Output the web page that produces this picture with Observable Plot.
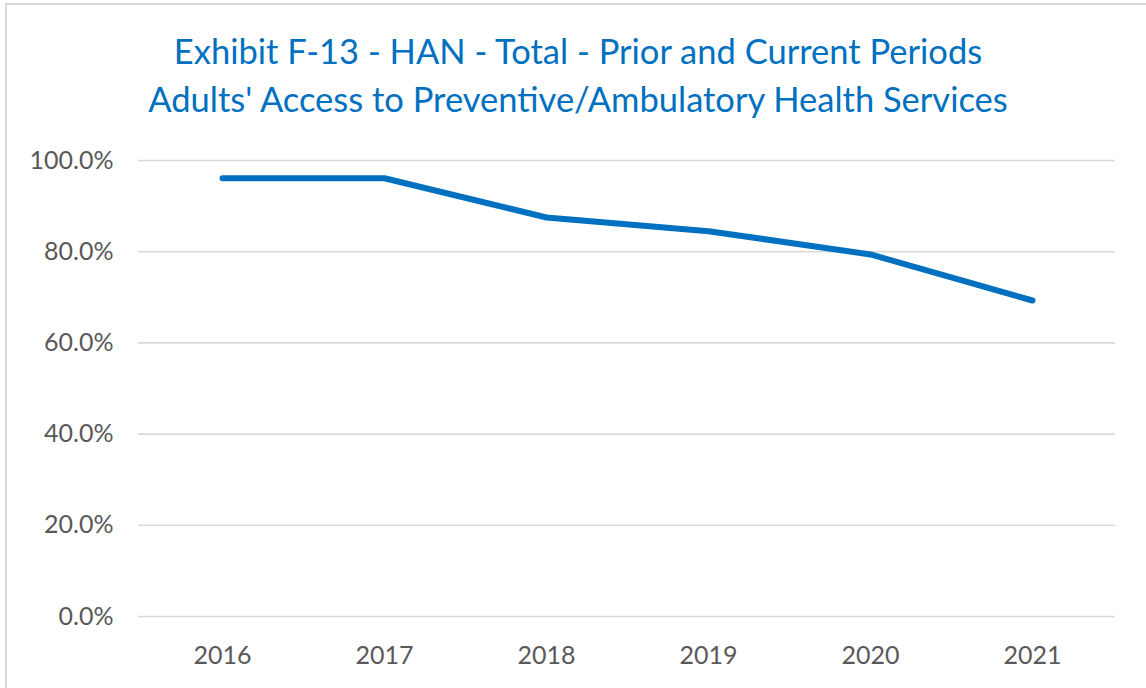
<!DOCTYPE html>
<html>
<head>
<meta charset="utf-8">
<script src="https://cdn.jsdelivr.net/npm/d3@7"></script>
<script src="https://cdn.jsdelivr.net/npm/@observablehq/plot@0.6"></script>
<style>
  html, body { margin: 0; padding: 0; background: #fff; }
  #wrap { position: relative; width: 1146px; height: 688px; overflow: hidden; font-family: Lato, "Open Sans", sans-serif; }
  #frame { position: absolute; left: 5px; top: 3px; width: 1150px; height: 700px; border: 2px solid #d9d9d9; box-sizing: border-box; }
  #title { position: absolute; left: 0; top: 27px; width: 1156px; text-align: center; color: #0070C0; font-size: 34.5px; line-height: 48px; }
  #chart { position: absolute; left: 0; top: 0; }
</style>
</head>
<body>
<div id="wrap">
  <div id="frame"></div>
  <div id="title">Exhibit F-13 - HAN - Total - Prior and Current Periods<br>Adults' Access to Preventive/Ambulatory Health Services</div>
  <div id="chart"></div>
</div>
<script>
const years = ["2016", "2017", "2018", "2019", "2020", "2021"];
const rates = [0.961, 0.961, 0.875, 0.845, 0.794, 0.693];
const yTicks = [0, 0.2, 0.4, 0.6, 0.8, 1.0];

const data = years.map((y, i) => ({year: y, rate: rates[i]}));

const plot = Plot.plot({
  width: 1146,
  height: 688,
  marginLeft: 138,
  marginRight: 31,
  marginTop: 160,
  marginBottom: 72,
  style: {fontFamily: "Lato, 'Open Sans', sans-serif", fontSize: "25px", color: "#595959", background: "transparent"},
  x: {type: "point", domain: years, padding: 0.5, label: null},
  y: {domain: [0, 1], label: null},
  marks: [
    Plot.gridY(yTicks, {stroke: "#d9d9d9", strokeOpacity: 1, strokeWidth: 1.6}),
    Plot.axisY(yTicks, {tickFormat: d3.format(".1%"), tickSize: 0, tickPadding: 25, fill: "#595959", fontSize: 25, label: null}),
    Plot.axisX({tickSize: 0, tickPadding: 30, fill: "#595959", fontSize: 25, label: null}),
    Plot.line(data, {x: "year", y: "rate", stroke: "#0070C0", strokeWidth: 6, strokeLinecap: "round", strokeLinejoin: "round"})
  ]
});
document.getElementById("chart").appendChild(plot);
</script>
</body>
</html>
